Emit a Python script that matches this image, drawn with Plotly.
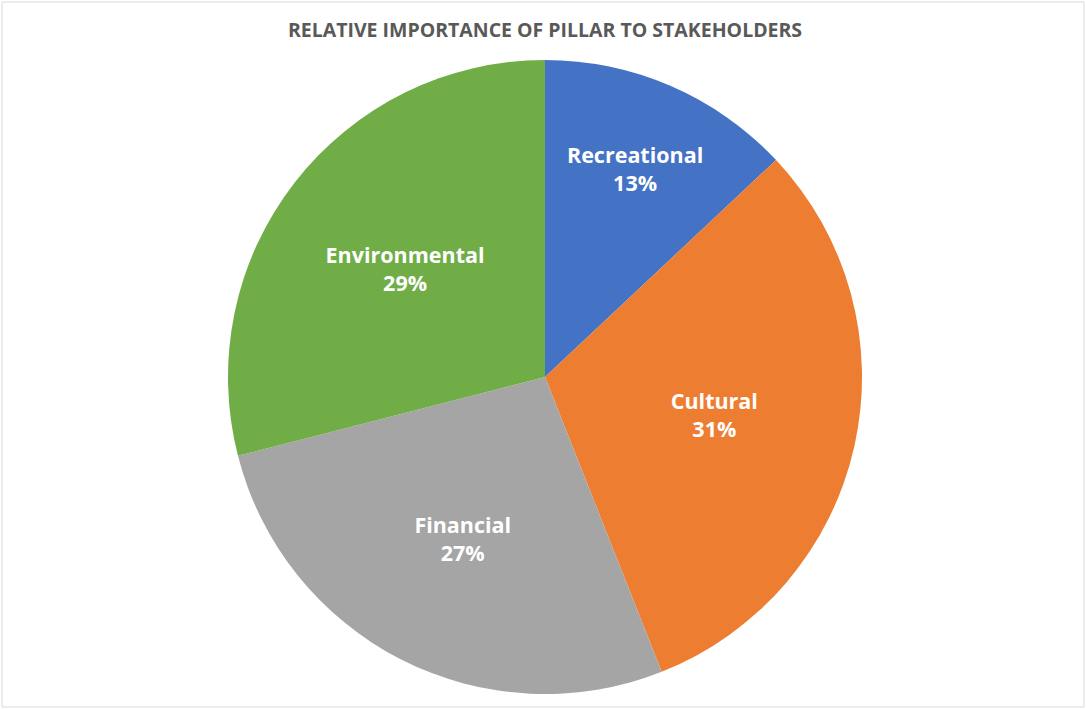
import plotly.graph_objects as go

categories = ["Recreational", "Cultural", "Financial", "Environmental"]
values = [13, 31, 27, 29]
colors = ["#4472C4", "#ED7D31", "#A5A5A5", "#70AD47"]

W, H = 1086, 709
cx, cy, R = 545, 377, 317

fig = go.Figure(go.Pie(
    labels=categories,
    values=values,
    sort=False,
    direction="clockwise",
    rotation=0,
    marker=dict(colors=colors, line=dict(width=0)),
    textinfo="label+percent",
    texttemplate="%{label}<br>%{percent:.0%}",
    textposition="inside",
    insidetextorientation="horizontal",
    textfont=dict(family="Open Sans", size=21.5, color="white", weight="bold"),
    domain=dict(x=[(cx - R) / W, (cx + R) / W], y=[(H - cy - R) / H, (H - cy + R) / H]),
    showlegend=False,
    hoverinfo="label+percent",
))

fig.update_layout(
    width=W, height=H,
    margin=dict(l=0, r=0, t=0, b=0),
    paper_bgcolor="white",
    plot_bgcolor="white",
    title=dict(
        text="<b>RELATIVE IMPORTANCE OF PILLAR TO STAKEHOLDERS</b>",
        x=545 / W, xanchor="center",
        y=1 - 30 / H, yanchor="middle",
        font=dict(family="Open Sans", size=19.5, color="#595959"),
    ),
    shapes=[dict(type="rect", xref="paper", yref="paper",
                 x0=2 / W, x1=1 - 2 / W, y0=2 / H, y1=1 - 2 / H,
                 line=dict(color="#D9D9D9", width=1))],
)

fig.write_html("out.html")
